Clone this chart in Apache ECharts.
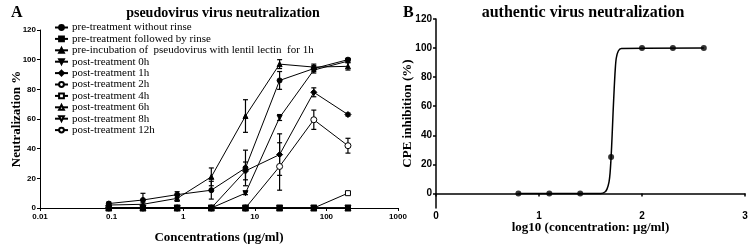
<!DOCTYPE html>
<html>
<head>
<meta charset="utf-8">
<script src="https://cdn.jsdelivr.net/npm/echarts@6/dist/echarts.min.js"></script>
<style>
  html, body { margin: 0; padding: 0; background: #fff; }
  #main { width: 750px; height: 245px; }
</style>
</head>
<body>
<div id="main"></div>
<script>
// panel A: concentrations (ug/ml), 3-fold dilutions
var conc = [0.0914, 0.274, 0.823, 2.47, 7.41, 22.2, 66.7, 200];
var xTicksA = [0.01, 0.1, 1, 10, 100, 1000];

var preNoRinse    = [3, 5.4, 9, 12, 27, 86, 94, 100];
var preNoRinseErr = [1, 4.5, 2, 6, 12, 6, 2, 1];
var preRinse      = [0, 0, 0, 0, 0, 0, 0, 0];
var preLectin     = [2, 2.5, 6.5, 21, 62, 97, 95, 95.5];
var preLectinErr  = [1, 1, 2, 6, 11, 3, 2, 2.5];
var post0h        = [0, 0, 0, 0, 10, 61, 93, 99];
var post0hErr     = [0, 0, 0, 0, 1, 2, 2, 1];
var post1h        = [0, 0, 0, 0, 25, 36, 78, 63];
var post1hErr     = [0, 0, 0, 0, 6, 14, 3, 1];
var post2h        = [0, 0, 0, 0, 0, 0, 0, 0];
var post4h        = [0, 0, 0, 0, 0, 0, 0, 10];
var post4hErr     = [0, 0, 0, 0, 0, 0, 0, 0.8];
var post6h        = [0, 0, 0, 0, 0, 0, 0, 0];
var post8h        = [0, 0, 0, 0, 0, 0, 0, 0];
var post12h       = [0, 0, 0, 0, 0, 28, 59.5, 42];
var post12hErr    = [0, 0, 0, 0, 0, 16, 6.5, 5];

// panel B: log10 concentration vs CPE inhibition
var logConc = [0.8, 1.1, 1.4, 1.7, 2.0, 2.3, 2.6];
var cpe     = [0, 0, 0, 25, 100, 100, 100];
// fitted curve
var curveX = [0.8, 1.6, 1.64, 1.66, 1.68, 1.69, 1.70, 1.71, 1.72, 1.73, 1.74, 1.75, 1.77, 1.8, 2.6];
var curveY = [0, 0, 1, 3, 8, 14, 25, 40, 57, 72, 85, 93, 98, 99.7, 100];
var yTicksB = [0, 20, 40, 60, 80, 100, 120];

var chart = echarts.init(document.getElementById('main'));

var serif = 'Liberation Serif';
var sans = 'Liberation Sans';

function pairs(xs, ys) {
    return xs.map(function (x, i) { return [x, ys[i]]; });
}

function errData(ys, errs) {
    var out = [];
    conc.forEach(function (x, i) {
        if (errs[i] > 0) out.push([x, ys[i], errs[i]]);
    });
    return out;
}

function lineA(name, ys, symbol, filled, rotate, size) {
    return {
        name: name,
        type: 'line',
        xAxisIndex: 0,
        yAxisIndex: 0,
        data: pairs(conc, ys),
        symbol: symbol,
        symbolSize: size || 5,
        symbolRotate: rotate || 0,
        lineStyle: { color: '#000', width: 1 },
        itemStyle: { color: filled ? '#000' : '#fff', borderColor: '#000', borderWidth: 1 },
        emphasis: { disabled: true },
        animation: false
    };
}

function errBars(ys, errs) {
    return {
        type: 'custom',
        xAxisIndex: 0,
        yAxisIndex: 0,
        data: errData(ys, errs),
        renderItem: function (params, api) {
            var x = api.value(0), y = api.value(1), e = api.value(2);
            var top = api.coord([x, y + e]);
            var bot = api.coord([x, Math.max(0, y - e)]);
            var w = 2.5;
            var st = { stroke: '#000', lineWidth: 1.2 };
            return {
                type: 'group',
                children: [
                    { type: 'line', shape: { x1: top[0], y1: top[1], x2: bot[0], y2: bot[1] }, style: st },
                    { type: 'line', shape: { x1: top[0] - w, y1: top[1], x2: top[0] + w, y2: top[1] }, style: st },
                    { type: 'line', shape: { x1: bot[0] - w, y1: bot[1], x2: bot[0] + w, y2: bot[1] }, style: st }
                ]
            };
        },
        z: 1,
        animation: false
    };
}

var legendNames = [
    'pre-treatment without rinse',
    'pre-treatment followed by rinse',
    'pre-incubation of  pseudovirus with lentil lectin  for 1h',
    'post-treatment 0h',
    'post-treatment 1h',
    'post-treatment 2h',
    'post-treatment 4h',
    'post-treatment 6h',
    'post-treatment 8h',
    'post-treatment 12h'
];

var rinse = lineA(legendNames[1], preRinse, 'rect', true, 0, 5);
rinse.z = 5;

var option = {
    backgroundColor: '#fff',
    textStyle: { fontFamily: serif },
    title: [
        { text: 'A', left: 6, top: 0, textStyle: { fontFamily: serif, fontWeight: 'bold', fontSize: 16, color: '#000' } },
        { text: 'pseudovirus virus neutralization', left: 218, top: 1, textAlign: 'center',
          textStyle: { fontFamily: serif, fontWeight: 'bold', fontSize: 14, color: '#000' } },
        { text: 'B', left: 398, top: 0, textStyle: { fontFamily: serif, fontWeight: 'bold', fontSize: 16, color: '#000' } },
        { text: 'authentic virus neutralization', left: 578, top: 0, textAlign: 'center',
          textStyle: { fontFamily: serif, fontWeight: 'bold', fontSize: 16, color: '#000' } }
    ],
    legend: {
        data: legendNames,
        orient: 'vertical',
        left: 49,
        top: 17,
        itemWidth: 13,
        itemHeight: 6,
        itemGap: 0.4,
        textStyle: { fontFamily: serif, fontSize: 11, color: '#000', lineHeight: 11, padding: [0, 0, 0, -1] },
        selectedMode: false
    },
    grid: [
        { left: 40, top: 30, width: 358, height: 178, outerBoundsMode: 'none' },
        { left: 436, top: 19, width: 309, height: 189, outerBoundsMode: 'none' }
    ],
    xAxis: [
        {
            gridIndex: 0,
            type: 'log',
            logBase: 10,
            min: 0.01,
            max: 1000,
            name: 'Concentrations (μg/ml)',
            nameLocation: 'middle',
            nameGap: 23,
            nameMoveOverlap: false,
            nameTextStyle: { fontFamily: serif, fontWeight: 'bold', fontSize: 13, color: '#000' },
            axisLine: { lineStyle: { color: '#000', width: 1 } },
            axisTick: { show: true, length: 3, lineStyle: { color: '#000' } },
            minorTick: { show: false },
            splitLine: { show: false },
            axisLabel: {
                fontFamily: sans, fontWeight: 'bold', fontSize: 8, color: '#000', margin: 5,
                formatter: function (v) {
                    var t = xTicksA.filter(function (k) { return Math.abs(k - v) / k < 1e-6; });
                    return t.length ? String(t[0]) : '';
                }
            }
        },
        {
            gridIndex: 1,
            type: 'value',
            min: 0,
            max: 3,
            interval: 1,
            name: 'log10 (concentration: μg/ml)',
            nameLocation: 'middle',
            nameGap: 13,
            nameMoveOverlap: false,
            nameTextStyle: { fontFamily: serif, fontWeight: 'bold', fontSize: 13, color: '#000' },
            axisLine: { lineStyle: { color: '#000', width: 1.5 } },
            axisTick: { show: true, length: 3, lineStyle: { color: '#000', width: 1.5 } },
            splitLine: { show: false },
            axisLabel: { fontFamily: sans, fontWeight: 'bold', fontSize: 10, color: '#000', margin: 3 }
        }
    ],
    yAxis: [
        {
            gridIndex: 0,
            type: 'value',
            min: 0,
            max: 120,
            interval: 20,
            name: 'Neutralization %',
            nameLocation: 'middle',
            nameGap: 17,
            nameMoveOverlap: false,
            nameTextStyle: { fontFamily: serif, fontWeight: 'bold', fontSize: 13, color: '#000' },
            axisLine: { show: true, lineStyle: { color: '#000', width: 1 } },
            axisTick: { show: true, length: 3, lineStyle: { color: '#000' } },
            splitLine: { show: false },
            axisLabel: { fontFamily: sans, fontWeight: 'bold', fontSize: 8, color: '#000', margin: 4 }
        },
        {
            gridIndex: 1,
            type: 'value',
            min: -10,
            max: 120,
            name: 'CPE inhibition (%)',
            nameLocation: 'middle',
            nameGap: 22,
            nameMoveOverlap: false,
            nameTextStyle: { fontFamily: serif, fontWeight: 'bold', fontSize: 13, color: '#000' },
            axisLine: { show: true, lineStyle: { color: '#000', width: 1.5 } },
            axisTick: { show: true, length: 3, customValues: yTicksB, lineStyle: { color: '#000', width: 1.5 } },
            splitLine: { show: false },
            axisLabel: { fontFamily: sans, fontWeight: 'bold', fontSize: 10, color: '#000', margin: 4, customValues: yTicksB }
        }
    ],
    series: [
        lineA(legendNames[0], preNoRinse, 'circle', true, 0, 5),
        rinse,
        lineA(legendNames[2], preLectin, 'triangle', true, 0, 5),
        lineA(legendNames[3], post0h, 'triangle', true, 180, 5),
        lineA(legendNames[4], post1h, 'diamond', true, 0, 6),
        lineA(legendNames[5], post2h, 'circle', false, 0, 5),
        lineA(legendNames[6], post4h, 'rect', false, 0, 5),
        lineA(legendNames[7], post6h, 'triangle', false, 0, 6),
        lineA(legendNames[8], post8h, 'triangle', false, 180, 6),
        lineA(legendNames[9], post12h, 'circle', false, 0, 6),
        errBars(preNoRinse, preNoRinseErr),
        errBars(preLectin, preLectinErr),
        errBars(post0h, post0hErr),
        errBars(post1h, post1hErr),
        errBars(post4h, post4hErr),
        errBars(post12h, post12hErr),
        {
            type: 'line',
            xAxisIndex: 1,
            yAxisIndex: 1,
            data: pairs(curveX, curveY),
            smooth: 0.3,
            showSymbol: false,
            symbol: 'none',
            lineStyle: { color: '#000', width: 1.5 },
            animation: false
        },
        {
            type: 'scatter',
            xAxisIndex: 1,
            yAxisIndex: 1,
            data: pairs(logConc, cpe),
            symbol: 'circle',
            symbolSize: 6,
            itemStyle: { color: '#000' },
            z: 5,
            animation: false
        }
    ]
};

chart.setOption(option);
</script>
</body>
</html>
